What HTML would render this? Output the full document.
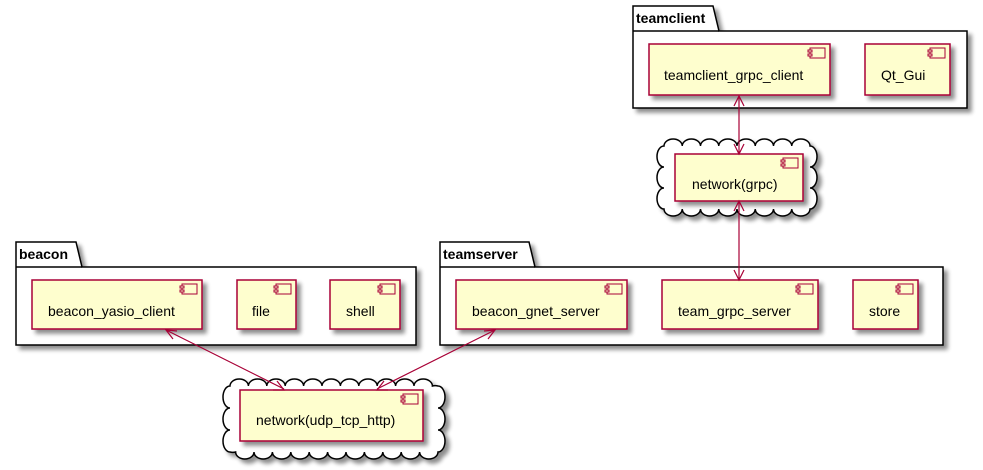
<!DOCTYPE html>
<html><head><meta charset="utf-8"><style>
html,body{margin:0;padding:0;background:#fff;}
svg{display:block;}
text{font-family:"Liberation Sans",sans-serif;}
</style></head><body>
<svg width="983" height="470" viewBox="0 0 983 470" xmlns="http://www.w3.org/2000/svg">
<defs>
<filter id="sh" x="-10%" y="-10%" width="130%" height="140%">
<feGaussianBlur in="SourceAlpha" stdDeviation="2"/>
<feOffset dx="4" dy="4" result="b"/>
<feComponentTransfer><feFuncA type="linear" slope="0.45"/></feComponentTransfer>
<feMerge><feMergeNode/><feMergeNode in="SourceGraphic"/></feMerge>
</filter>
<symbol id="ic" overflow="visible">
<rect x="0" y="0" width="15" height="10" fill="#FEFECE" stroke="#A80036" stroke-width="1"/>
<rect x="-2" y="2" width="4" height="2" fill="#FEFECE" stroke="#A80036" stroke-width="1"/>
<rect x="-2" y="6" width="4" height="2" fill="#FEFECE" stroke="#A80036" stroke-width="1"/>
</symbol>
</defs>

<g fill="#fff" stroke="#000" stroke-width="1.5" filter="url(#sh)">
<path d="M633,6 H713 L719,31 H967 V108 H633 Z"/>
<path d="M16,242 H76 L82,267 H416 V345 H16 Z"/>
<path d="M440,242 H529 L535,267 H943 V345 H440 Z"/>
</g>
<g stroke="#000" stroke-width="1.5"><line x1="633" y1="31" x2="719" y2="31"/><line x1="16" y1="267" x2="82" y2="267"/><line x1="440" y1="267" x2="535" y2="267"/></g>
<g font-weight="bold" font-size="14">
<text x="636" y="23">teamclient</text>
<text x="19" y="259">beacon</text>
<text x="443" y="259">teamserver</text>
</g>

<g fill="#fff" stroke="#000" stroke-width="1.5" filter="url(#sh)">
<path d="M664,146 a9.1,7 0 0,1 18.25,0 a9.1,7 0 0,1 18.25,0 a9.1,7 0 0,1 18.25,0 a9.1,7 0 0,1 18.25,0 a9.1,7 0 0,1 18.25,0 a9.1,7 0 0,1 18.25,0 a9.1,7 0 0,1 18.25,0 a9.1,7 0 0,1 18.25,0
a7,10.5 0 0,1 0,21 a7,10.5 0 0,1 0,21 a7,10.5 0 0,1 0,21
a9.1,7 0 0,1 -18.25,0 a9.1,7 0 0,1 -18.25,0 a9.1,7 0 0,1 -18.25,0 a9.1,7 0 0,1 -18.25,0 a9.1,7 0 0,1 -18.25,0 a9.1,7 0 0,1 -18.25,0 a9.1,7 0 0,1 -18.25,0 a9.1,7 0 0,1 -18.25,0
a7,10.5 0 0,1 0,-21 a7,10.5 0 0,1 0,-21 a7,10.5 0 0,1 0,-21 Z"/>
<path d="M230,386 a9.2,7 0 0,1 18.4,0 a9.2,7 0 0,1 18.4,0 a9.2,7 0 0,1 18.4,0 a9.2,7 0 0,1 18.4,0 a9.2,7 0 0,1 18.4,0 a9.2,7 0 0,1 18.4,0 a9.2,7 0 0,1 18.4,0 a9.2,7 0 0,1 18.4,0 a9.2,7 0 0,1 18.4,0 a9.2,7 0 0,1 18.4,0 a9.2,7 0 0,1 18.4,0 a9.2,7 0 0,1 5.6,0
a7,11 0 0,1 0,22 a7,11 0 0,1 0,22 a7,11 0 0,1 0,22
a9.2,7 0 0,1 -18.4,0 a9.2,7 0 0,1 -18.4,0 a9.2,7 0 0,1 -18.4,0 a9.2,7 0 0,1 -18.4,0 a9.2,7 0 0,1 -18.4,0 a9.2,7 0 0,1 -18.4,0 a9.2,7 0 0,1 -18.4,0 a9.2,7 0 0,1 -18.4,0 a9.2,7 0 0,1 -18.4,0 a9.2,7 0 0,1 -18.4,0 a9.2,7 0 0,1 -18.4,0 a9.2,7 0 0,1 -5.6,0
a7,11 0 0,1 0,-22 a7,11 0 0,1 0,-22 a7,11 0 0,1 0,-22 Z"/>
</g>

<g fill="#FEFECE" stroke="#A80036" stroke-width="1.5" filter="url(#sh)">
<rect x="649" y="44" width="181" height="51"/>
<rect x="865" y="44" width="85" height="51"/>
<rect x="675" y="154" width="128" height="47"/>
<rect x="32" y="280" width="170" height="49"/>
<rect x="237" y="280" width="59" height="49"/>
<rect x="330" y="280" width="70" height="49"/>
<rect x="456" y="280" width="171" height="49"/>
<rect x="662" y="280" width="156" height="49"/>
<rect x="853" y="280" width="65" height="49"/>
<rect x="240" y="390" width="183" height="51"/>
</g>
<g>
<use href="#ic" x="810" y="48"/>
<use href="#ic" x="930" y="48"/>
<use href="#ic" x="783" y="158"/>
<use href="#ic" x="182" y="284"/>
<use href="#ic" x="276" y="284"/>
<use href="#ic" x="380" y="284"/>
<use href="#ic" x="607" y="284"/>
<use href="#ic" x="798" y="284"/>
<use href="#ic" x="898" y="284"/>
<use href="#ic" x="403" y="394"/>
</g>
<g font-size="14" fill="#000">
<text x="664" y="80">teamclient_grpc_client</text>
<text x="881" y="80">Qt_Gui</text>
<text x="692" y="189">network(grpc)</text>
<text x="48" y="316">beacon_yasio_client</text>
<text x="252" y="316">file</text>
<text x="346" y="316">shell</text>
<text x="472" y="316">beacon_gnet_server</text>
<text x="678" y="316">team_grpc_server</text>
<text x="869" y="316">store</text>
<text x="256" y="425">network(udp_tcp_http)</text>
</g>

<g stroke="#A80036" stroke-width="1.2" fill="none">
<line x1="739" y1="96" x2="739" y2="153"/>
<line x1="739" y1="202" x2="739" y2="279"/>
<line x1="166" y1="330" x2="284" y2="389"/>
<line x1="495" y1="330" x2="377" y2="389"/>
<path d="M734,106 L739,96 L744,106"/>
<path d="M734,144 L739,154 L744,144"/>
<path d="M734,211 L739,201 L744,211"/>
<path d="M734,270 L739,280 L744,270"/>
<path d="M177,331 L166,330 L173,339"/>
<path d="M273,390 L284,390 L277,381"/>
<path d="M484,331 L495,330 L488,339"/>
<path d="M388,390 L377,390 L384,381"/>
</g>
</svg>
</body></html>
